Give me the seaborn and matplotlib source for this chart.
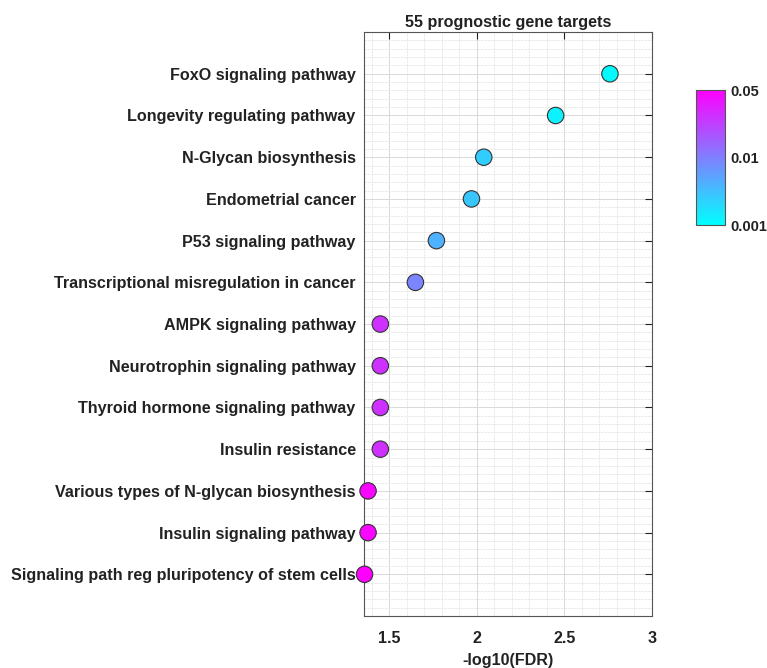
import numpy as np
import pandas as pd
import matplotlib
matplotlib.use("Agg")
import matplotlib.pyplot as plt
import matplotlib.colors as mcolors
from matplotlib.ticker import MultipleLocator, FormatStrFormatter
import seaborn as sns

pathways = [
    "FoxO signaling pathway",
    "Longevity regulating pathway",
    "N-Glycan biosynthesis",
    "Endometrial cancer",
    "P53 signaling pathway",
    "Transcriptional misregulation in cancer",
    "AMPK signaling pathway",
    "Neurotrophin signaling pathway",
    "Thyroid hormone signaling pathway",
    "Insulin resistance",
    "Various types of N-glycan biosynthesis",
    "Insulin signaling pathway",
    "Signaling path reg pluripotency of stem cells",
]
neg_log_fdr = [2.76, 2.45, 2.04, 1.97, 1.77, 1.65, 1.45, 1.45, 1.45, 1.45, 1.38, 1.38, 1.36]
pvalues = [0.0011, 0.0013, 0.0025, 0.0028, 0.0040, 0.0090, 0.027, 0.027, 0.027, 0.027, 0.046, 0.046, 0.050]
cbar_ticks = [0.001, 0.01, 0.05]

sns.set_style("white")
plt.rcParams["font.family"] = ["Liberation Sans", "DejaVu Sans"]
plt.rcParams["font.weight"] = "bold"

df = pd.DataFrame({"pathway": pathways, "score": neg_log_fdr, "p": pvalues,
                   "pos": np.arange(1, len(pathways) + 1)})

# piecewise log scale: 0.001 -> 0, 0.01 -> 0.5, 0.05 -> 1
tick_logs = np.log10(cbar_ticks)
tick_pos = [0.0, 0.5, 1.0]
def _fwd(v):
    return np.interp(np.log10(np.asarray(v, dtype=float)), tick_logs, tick_pos)
def _inv(u):
    return 10 ** np.interp(np.asarray(u, dtype=float), tick_pos, tick_logs)
norm = mcolors.FuncNorm((_fwd, _inv), vmin=0.001, vmax=0.05)
cmap = plt.get_cmap("cool")

fig = plt.figure(figsize=(7.67, 6.68), dpi=100)
ax = fig.add_axes([0.4746, 0.0778, 0.3755, 0.8742])

sns.scatterplot(data=df, x="score", y="pos", hue="p", palette=cmap, hue_norm=norm,
                s=140, edgecolor="#333333", linewidth=0.8, legend=False, ax=ax,
                zorder=3, clip_on=False)

ax.set_xlim(1.357, 3.0)
ax.set_ylim(len(pathways) + 1, 0)
ax.set_yticks(df["pos"])
ax.set_yticklabels(pathways)
ax.xaxis.set_major_locator(MultipleLocator(0.5))
ax.xaxis.set_major_formatter(FormatStrFormatter("%g"))
ax.xaxis.set_minor_locator(MultipleLocator(0.1))
ax.yaxis.set_minor_locator(MultipleLocator(0.2))
ax.grid(which="major", color="#d9d9d9", linewidth=0.7, zorder=0)
ax.grid(which="minor", color="#e6e6e6", linewidth=0.6, linestyle=(0, (3, 1)), zorder=0)
ax.set_axisbelow(True)
ax.tick_params(axis="x", which="major", direction="in", length=5, width=0.8,
               top=True, labelsize=11.6, colors="#222222", pad=11)
ax.tick_params(axis="y", which="major", direction="in", length=5, width=0.8,
               left=False, right=True, labelsize=11.6, colors="#222222", pad=6)
ax.tick_params(axis="both", which="minor", length=0, top=True, right=True)
for lab in ax.get_xticklabels() + ax.get_yticklabels():
    lab.set_fontweight("bold")
for sp in ax.spines.values():
    sp.set_color("#555555")
    sp.set_linewidth(0.8)
ax.set_xlabel("-log10(FDR)", fontsize=11.6, fontweight="bold", color="#222222", labelpad=5)
ax.set_ylabel("")
ax.set_title("55 prognostic gene targets", fontsize=11.6, fontweight="bold", color="#222222", pad=4)

cax = fig.add_axes([0.9075, 0.663, 0.0378, 0.202])
sm = plt.cm.ScalarMappable(norm=norm, cmap=cmap)
cb = fig.colorbar(sm, cax=cax, ticks=cbar_ticks)
cb.ax.set_yticklabels([f"{t:g}" for t in cbar_ticks])
cb.ax.tick_params(labelsize=10.5, length=2, direction="in", colors="#222222", pad=4)
for lab in cb.ax.get_yticklabels():
    lab.set_fontweight("bold")
cb.outline.set_edgecolor("#555555")
cb.outline.set_linewidth(0.8)

fig.savefig("out.png", dpi=100)
